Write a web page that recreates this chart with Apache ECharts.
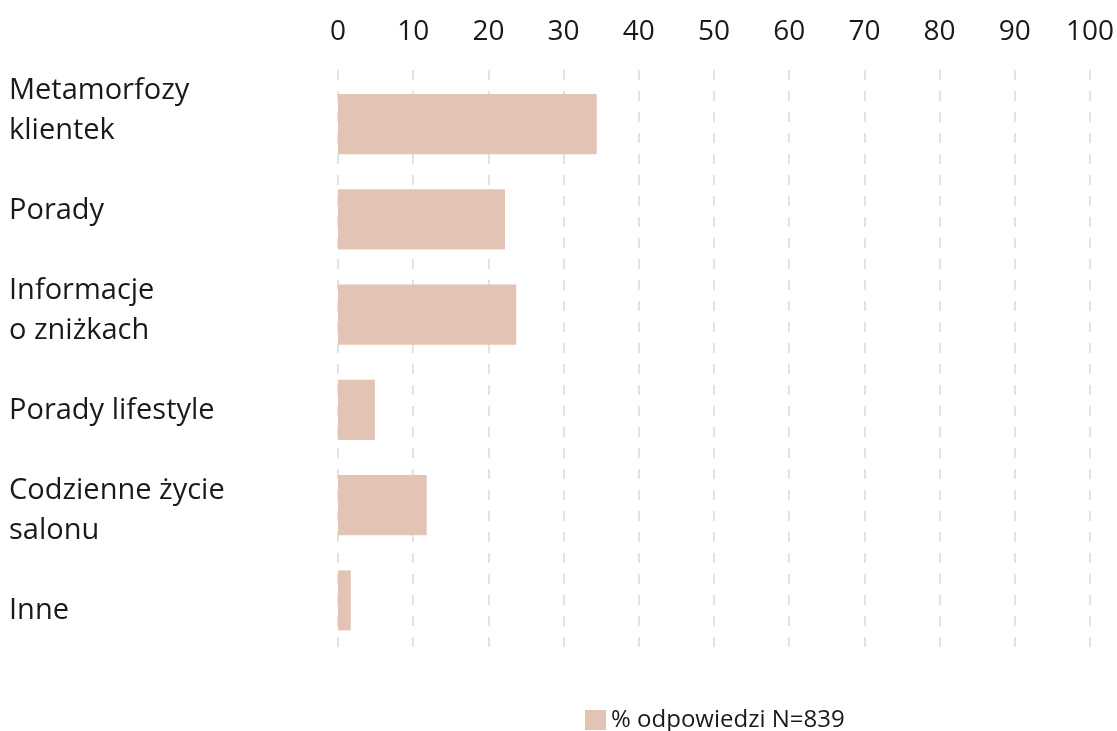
<!DOCTYPE html>
<html><head><meta charset="utf-8">
<script src="https://cdn.jsdelivr.net/npm/echarts@6/dist/echarts.min.js"></script>
<style>html,body{margin:0;padding:0;background:#fff}#c{width:1117px;height:731px}</style>
</head><body><div id="c"></div>
<script>
const categories = ['Metamorfozy\nklientek','Porady','Informacje\no zniżkach','Porady lifestyle','Codzienne życie\nsalonu','Inne'];
const values = [34.4, 22.2, 23.7, 4.9, 11.8, 1.7];
const tickMin = 0, tickMax = 100, tickStep = 10;
const seriesName = '% odpowiedzi N=839';
const chart = echarts.init(document.getElementById('c'));
const hiddenVal = {type:'value',min:tickMin,max:tickMax,show:false};
chart.setOption({
  animation:false,
  textStyle:{fontFamily:'Open Sans'},
  grid:[
    {left:338,right:27,top:70,bottom:81},
    {left:338,right:27,top:76.5,bottom:83},
    {left:338,right:27,top:61,bottom:70}
  ],
  legend:{bottom:-6,left:580,itemWidth:21,itemHeight:20,itemGap:8,icon:'rect',
    textStyle:{fontSize:24,color:'#1a1a1a',fontFamily:'Open Sans'},data:[seriesName]},
  xAxis:[
    {gridIndex:0,type:'value',position:'top',min:tickMin,max:tickMax,interval:tickStep,
      axisLine:{show:false},axisTick:{show:false},
      axisLabel:{fontSize:28,color:'#1a1a1a',margin:24,fontFamily:'Open Sans'},
      splitLine:{show:true,lineStyle:{color:'#e3e3e3',width:2,type:[10,11]}}},
    Object.assign({gridIndex:1},hiddenVal),
    Object.assign({gridIndex:2},hiddenVal)
  ],
  yAxis:[
    {gridIndex:0,type:'category',inverse:true,data:categories,show:false},
    {gridIndex:1,type:'category',inverse:true,data:categories,show:false},
    {gridIndex:2,type:'category',inverse:true,data:categories,
      axisLine:{show:false},axisTick:{show:false},splitLine:{show:false},
      axisLabel:{fontSize:29,lineHeight:40,color:'#1a1a1a',align:'left',margin:329,fontFamily:'Open Sans'}}
  ],
  series:[{name:seriesName,type:'bar',xAxisIndex:1,yAxisIndex:1,data:values,barWidth:'63%',
    itemStyle:{color:'#e3c3b4'}}]
});
</script></body></html>
